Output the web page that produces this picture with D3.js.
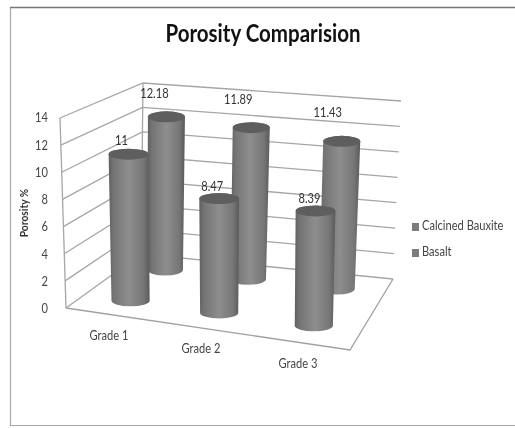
<!DOCTYPE html>
<html><head><meta charset="utf-8">
<script src="https://cdn.jsdelivr.net/npm/d3@7"></script>
<style>
html,body{margin:0;padding:0;background:#fff}
svg{display:block;filter:blur(0.6px)}
text{font-family:Lato,"Open Sans",sans-serif}
</style></head><body>
<script>
const categories = ["Grade 1", "Grade 2", "Grade 3"];
const seriesNames = ["Calcined Bauxite", "Basalt"];
const calcinedBauxite = [11, 8.47, 8.39];
const basalt = [12.18, 11.89, 11.43];
const yTicks = [0, 2, 4, 6, 8, 10, 12, 14];

const W = 515, H = 428;
const svg = d3.select("body").append("svg").attr("width", W).attr("height", H);
const defs = svg.append("defs");
const grad = defs.append("linearGradient").attr("id", "cyl");
[[0,"#606060"],[0.12,"#747474"],[0.5,"#8e8e8e"],[0.85,"#767676"],[1,"#5a5a5a"]]
  .forEach(([o,c]) => grad.append("stop").attr("offset", o).attr("stop-color", c));

// Oblique 3-D projection: u along categories, d into depth, v = value
const uScale = d3.scaleOrdinal().domain(categories).range([0.166, 0.487, 0.83]);
const dScale = d3.scalePoint().domain(seriesNames).range([0.25, 0.79]);
const mix = (a, b, t) => a + (b - a) * t;
const corners = {fl:[66,308], fr:[350,350], bl:[141,254], br:[393,279]};
const tall = {fl:[-6,190], fr:[3,198], bl:[2,171], br:[8,178]};
function bil(k, i, u, d) {
  return mix(mix(k.fl[i], k.fr[i], u), mix(k.bl[i], k.br[i], u), d);
}
const vScale = d3.scaleLinear().domain([0, 14]).range([0, 1]);
function project(u, d, v) {
  const t = vScale(v);
  return [bil(corners,0,u,d) + bil(tall,0,u,d)*t, bil(corners,1,u,d) - bil(tall,1,u,d)*t];
}
const pathLine = d3.line();

// Walls and floor
const grid = svg.append("g").attr("fill","none");
yTicks.forEach(v => {
  grid.append("path").attr("d", pathLine([project(0,0,v), project(0,1,v), project(1,1,v)]))
    .attr("stroke", "#a6a6a6").attr("stroke-width", 1.3);
});
grid.append("path").attr("d", pathLine([project(0,0,0), project(0,0,14)])).attr("stroke","#a6a6a6").attr("stroke-width",1.3);
grid.append("path").attr("d", pathLine([project(0,1,0), project(0,1,14)])).attr("stroke","#a6a6a6").attr("stroke-width",1.3);
grid.append("path").attr("d", pathLine([project(0,0,0), project(1,0,0), project(1,1,0)])).attr("stroke","#a0a0a0").attr("stroke-width",1.3);

// Cylinders
const rows = [
  {name: seriesNames[1], values: basalt, dx:-3, ox:[-12,-13,-14], oy:[-22,-27,-28]},
  {name: seriesNames[0], values: calcinedBauxite, dx:0, ox:[-7,-7,-6], oy:[-12,-11,-11]}
];
const rScale = d3.scaleLinear().domain([0,1]).range([20.5, 18]);
const labels = [];
rows.forEach(row => {
  const d = dScale(row.name);
  const g = svg.append("g");
  categories.forEach((c, i) => {
    const u = uScale(c);
    const v = row.values[i];
    const [bx0, by] = project(u, d, 0), [tx0, ty] = project(u, d, v);
    const bx = bx0 + row.dx, tx = tx0 + row.dx;
    const r = rScale(d), rb = r - 0.8, ry = 5.5;
    g.append("path")
      .attr("d", `M${tx-r},${ty}L${bx-rb},${by}A${rb},${ry} 0 0 0 ${bx+rb},${by}L${tx+r},${ty}A${r},${ry} 0 0 0 ${tx-r},${ty}Z`)
      .attr("fill", "url(#cyl)");
    g.append("ellipse").attr("cx", tx).attr("cy", ty).attr("rx", r).attr("ry", ry).attr("fill", "#5e5e5e");
    labels.push({x: tx + row.ox[i], y: ty + row.oy[i], v});
  });
});
svg.append("g").selectAll("text").data(labels).join("text")
  .attr("x", d => d.x).attr("y", d => d.y)
  .attr("text-anchor","middle").attr("dominant-baseline","middle")
  .attr("font-size", 13).attr("fill","#333").text(d => d.v);

// Value labels on axis
const axisY = d3.scaleLinear().domain([0,14]).range([310, 119]);
svg.append("g").selectAll("text").data(yTicks).join("text")
  .attr("x", 48).attr("y", d => axisY(d)).attr("text-anchor","end").attr("dominant-baseline","middle")
  .attr("font-size", 13).attr("fill","#444").text(d => d);

// Category labels
const catX = d3.scaleOrdinal().domain(categories).range([109,201,298]);
const catY = d3.scaleOrdinal().domain(categories).range([337,350,365]);
svg.append("g").selectAll("text").data(categories).join("text")
  .attr("x", d => catX(d)).attr("y", d => catY(d)).attr("text-anchor","middle").attr("dominant-baseline","middle")
  .attr("font-size", 13).attr("fill","#444").text(d => d);

// Title and axis title
svg.append("text").attr("x", 263).attr("y", 36).attr("text-anchor","middle").attr("dominant-baseline","middle")
  .attr("font-size", 24).attr("font-weight",700).attr("fill","#111").text("Porosity Comparision");
svg.append("text").attr("transform","translate(25,213) rotate(-90)").attr("text-anchor","middle").attr("dominant-baseline","middle")
  .attr("font-size", 12).attr("font-weight",700).attr("fill","#333").text("Porosity %");

// Legend
const legY = d3.scaleOrdinal().domain(seriesNames).range([227,253]);
const leg = svg.append("g").selectAll("g").data(seriesNames).join("g");
leg.append("rect").attr("x",412).attr("y",d=>legY(d)-4).attr("width",7).attr("height",8).attr("fill","#7d7d7d");
leg.append("text").attr("x",422).attr("y",d=>legY(d)).attr("dominant-baseline","middle")
  .attr("font-size",13).attr("fill","#444").text(d=>d);

// Narrow the glyphs to the humanist condensed look of the original type
svg.selectAll("text").each(function() {
  const t = d3.select(this);
  const x = +t.attr("x") || 0, y = +t.attr("y") || 0, prev = t.attr("transform") || "";
  t.attr("x", null).attr("y", null).attr("transform", `translate(${x},${y}) ${prev} scale(0.855,1)`);
});

// Frame
svg.append("path").attr("d", pathLine([[515,7.5],[10.5,7.5],[10.5,425.5],[515,425.5]])).attr("fill","none").attr("stroke","#a8a8a8").attr("stroke-width",1.2);
svg.append("path").attr("d", pathLine([[10,7.5],[515,7.5]])).attr("fill","none").attr("stroke","#777").attr("stroke-width",1.4);
</script>
</body></html>
